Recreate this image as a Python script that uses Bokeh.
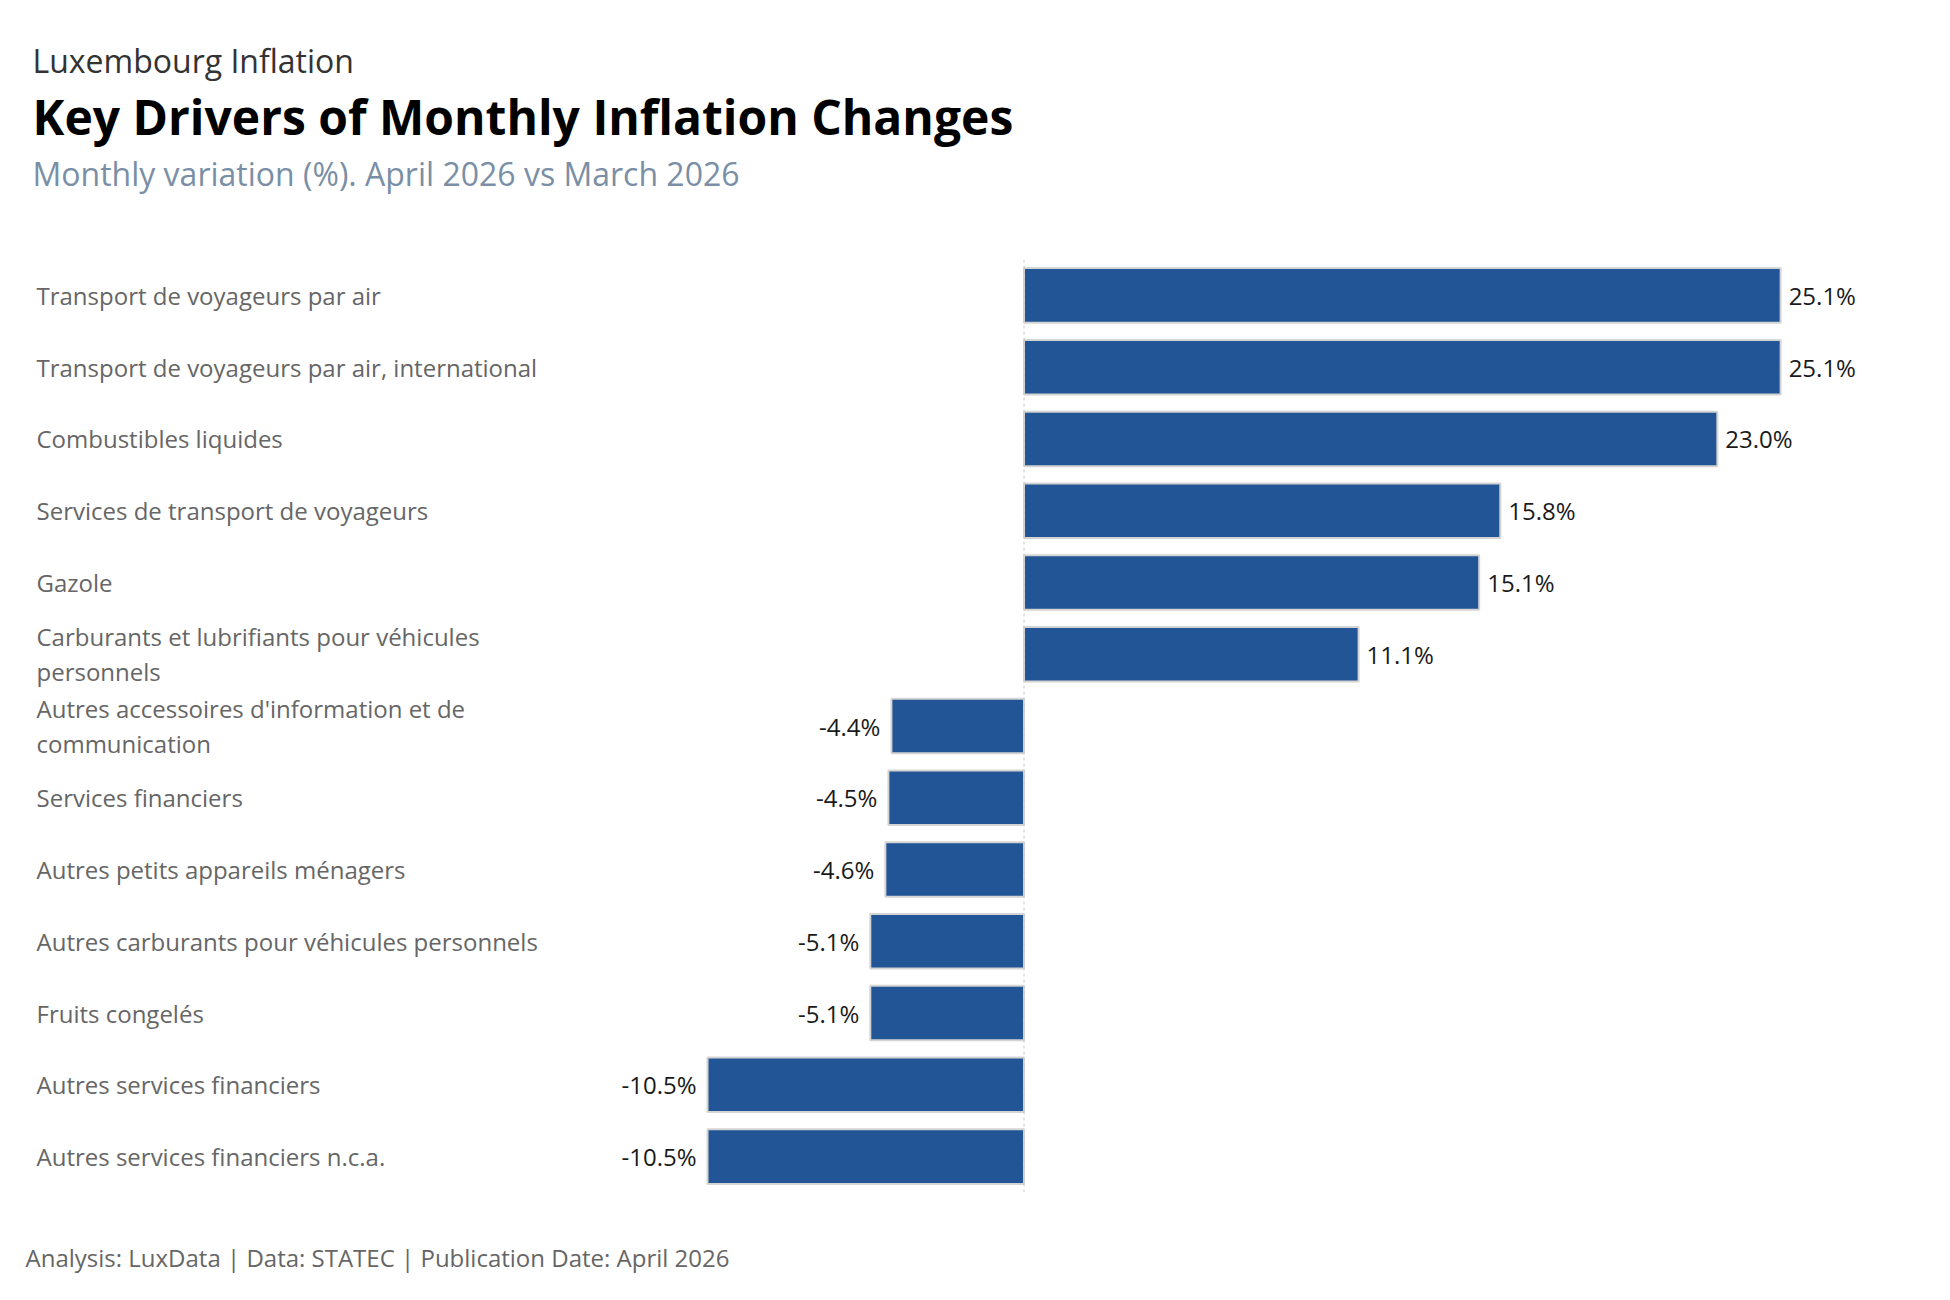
from bokeh.plotting import figure
from bokeh.models import ColumnDataSource, Span, Title, Range1d, FactorRange
from bokeh.core.properties import value
from bokeh.embed import file_html
from bokeh.resources import INLINE

# CPI sub-indices with the largest month-on-month moves
categories = [
    "Transport de voyageurs par air",
    "Transport de voyageurs par air, international",
    "Combustibles liquides",
    "Services de transport de voyageurs",
    "Gazole",
    "Carburants et lubrifiants pour véhicules personnels",
    "Autres accessoires d'information et de communication",
    "Services financiers",
    "Autres petits appareils ménagers",
    "Autres carburants pour véhicules personnels",
    "Fruits congelés",
    "Autres services financiers",
    "Autres services financiers n.c.a.",
]
# labels as shown, long ones broken over two lines
display_labels = [
    "Transport de voyageurs par air",
    "Transport de voyageurs par air, international",
    "Combustibles liquides",
    "Services de transport de voyageurs",
    "Gazole",
    "Carburants et lubrifiants pour véhicules\npersonnels",
    "Autres accessoires d'information et de\ncommunication",
    "Services financiers",
    "Autres petits appareils ménagers",
    "Autres carburants pour véhicules personnels",
    "Fruits congelés",
    "Autres services financiers",
    "Autres services financiers n.c.a.",
]
values = [25.1, 25.1, 23.0, 15.8, 15.1, 11.1, -4.4, -4.5, -4.6, -5.1, -5.1, -10.5, -10.5]

FONT = "Open Sans"
BAR = "#225595"
X_START, X_END = -32.96, 29.74

src = ColumnDataSource(dict(
    cat=categories,
    label=display_labels,
    val=values,
    vtxt=[f"{v:.1f}%" for v in values],
    align=["left" if v >= 0 else "right" for v in values],
    off=[8 if v >= 0 else -11 for v in values],
    lx=[X_START] * len(categories),
))

p = figure(
    width=1950, height=1300,
    y_range=FactorRange(*reversed(categories)),
    x_range=Range1d(X_START, X_END),
    output_backend="svg", toolbar_location=None,
    x_axis_location=None, y_axis_location=None,
    min_border_left=30, min_border_right=30,
    min_border_top=259, min_border_bottom=108,
)
p.outline_line_color = None
p.grid.visible = False
p.background_fill_color = "white"
p.border_fill_color = "white"

p.hbar(y="cat", left=0, right="val", height=0.76, source=src,
       fill_color=BAR, line_color="#d4d4d4", line_width=2)

p.add_layout(Span(location=0, dimension="height", line_color="#c8c8c8",
                  line_width=1, line_dash="3 3"))

p.text(x="val", y="cat", text="vtxt", source=src, text_align="align",
       x_offset="off", text_baseline="middle", text_font=value(FONT),
       text_font_size="24px", text_color="#1a1a1a")

p.text(x="lx", y="cat", text="label", source=src, text_align="left",
       x_offset=6, text_baseline="middle", text_font=value(FONT),
       text_font_size="24px", text_color="#666666", text_line_height=1.06)

# title block, added from the frame outward
p.add_layout(Title(text="Monthly variation (%). April 2026 vs March 2026",
                   text_font=FONT, text_font_size="32px", text_font_style="normal",
                   text_color="#7a8fa6", align="left", offset=2, standoff=0,
                   padding=dict(left=0, right=0, top=0, bottom=65)), "above")
p.add_layout(Title(text="Key Drivers of Monthly Inflation Changes",
                   text_font=FONT, text_font_size="48px", text_font_style="bold",
                   text_color="#000000", align="left", offset=2, standoff=1), "above")
p.add_layout(Title(text="Luxembourg Inflation",
                   text_font=FONT, text_font_size="32px", text_font_style="normal",
                   text_color="#333333", align="left", offset=2, standoff=0), "above")

p.add_layout(Title(text="Analysis: LuxData | Data: STATEC | Publication Date: April 2026",
                   text_font=FONT, text_font_size="24px", text_font_style="normal",
                   text_color="#666666", align="left", offset=-5, standoff=0,
                   padding=dict(left=0, right=0, top=46, bottom=0)), "below")

open("out.html", "w").write(file_html(p, INLINE))
